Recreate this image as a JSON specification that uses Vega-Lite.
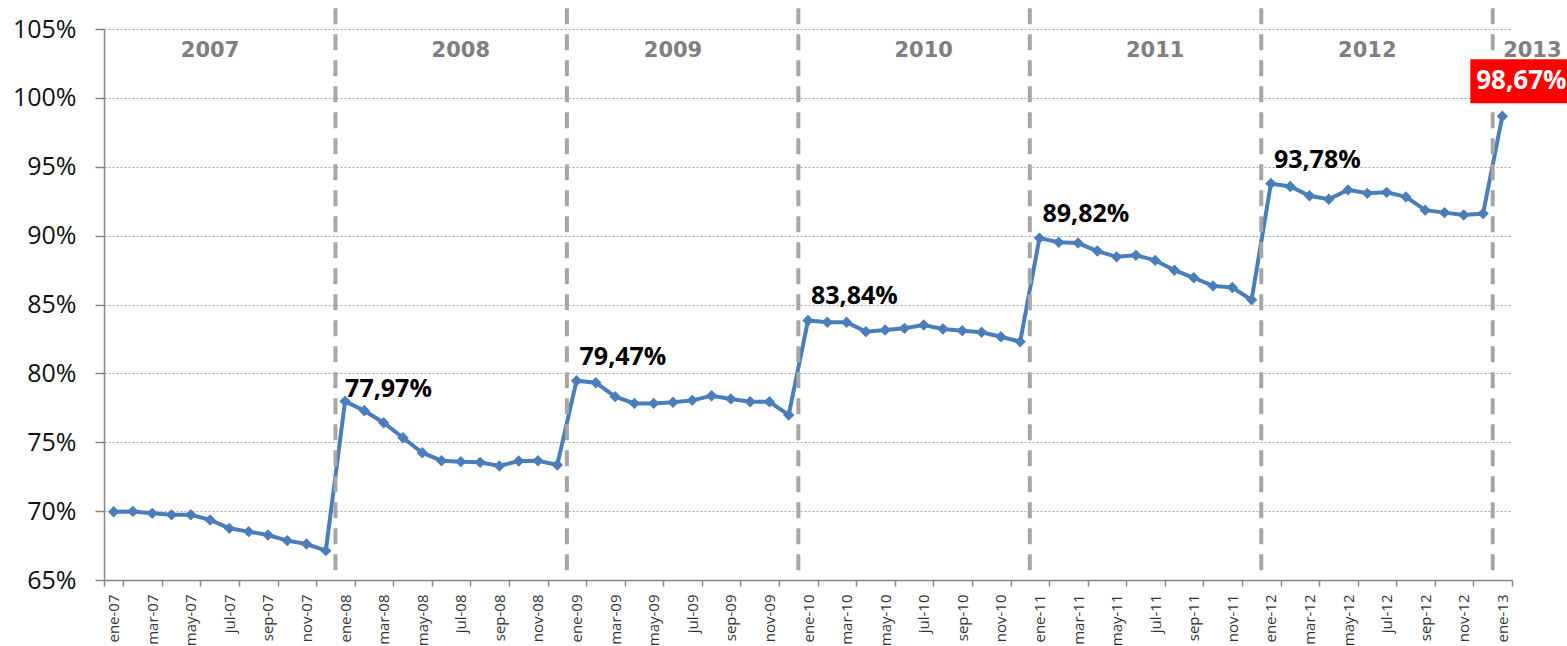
{
  "$schema": "https://vega.github.io/schema/vega-lite/v6.json",
  "width": 1408,
  "height": 551,
  "autosize": "none",
  "padding": {"left": 104, "top": 29, "right": 55, "bottom": 66},
  "background": "#ffffff",
  "config": {"view": {"stroke": null}},
  "data": {"values": [
    {"mes": "ene-07", "valor": 69.95, "anio": null, "etiqueta": null},
    {"mes": "feb-07", "valor": 69.98, "anio": null, "etiqueta": null},
    {"mes": "mar-07", "valor": 69.84, "anio": null, "etiqueta": null},
    {"mes": "abr-07", "valor": 69.73, "anio": null, "etiqueta": null},
    {"mes": "may-07", "valor": 69.74, "anio": null, "etiqueta": null},
    {"mes": "jun-07", "valor": 69.36, "anio": "2007", "etiqueta": null},
    {"mes": "jul-07", "valor": 68.75, "anio": null, "etiqueta": null},
    {"mes": "ago-07", "valor": 68.51, "anio": null, "etiqueta": null},
    {"mes": "sep-07", "valor": 68.27, "anio": null, "etiqueta": null},
    {"mes": "oct-07", "valor": 67.86, "anio": null, "etiqueta": null},
    {"mes": "nov-07", "valor": 67.61, "anio": null, "etiqueta": null},
    {"mes": "dic-07", "valor": 67.13, "anio": null, "etiqueta": null},
    {"mes": "ene-08", "valor": 77.97, "anio": null, "etiqueta": "77,97%"},
    {"mes": "feb-08", "valor": 77.29, "anio": null, "etiqueta": null},
    {"mes": "mar-08", "valor": 76.42, "anio": null, "etiqueta": null},
    {"mes": "abr-08", "valor": 75.33, "anio": null, "etiqueta": null},
    {"mes": "may-08", "valor": 74.24, "anio": null, "etiqueta": null},
    {"mes": "jun-08", "valor": 73.66, "anio": null, "etiqueta": null},
    {"mes": "jul-08", "valor": 73.59, "anio": "2008", "etiqueta": null},
    {"mes": "ago-08", "valor": 73.54, "anio": null, "etiqueta": null},
    {"mes": "sep-08", "valor": 73.28, "anio": null, "etiqueta": null},
    {"mes": "oct-08", "valor": 73.64, "anio": null, "etiqueta": null},
    {"mes": "nov-08", "valor": 73.66, "anio": null, "etiqueta": null},
    {"mes": "dic-08", "valor": 73.35, "anio": null, "etiqueta": null},
    {"mes": "ene-09", "valor": 79.47, "anio": null, "etiqueta": "79,47%"},
    {"mes": "feb-09", "valor": 79.32, "anio": null, "etiqueta": null},
    {"mes": "mar-09", "valor": 78.31, "anio": null, "etiqueta": null},
    {"mes": "abr-09", "valor": 77.82, "anio": null, "etiqueta": null},
    {"mes": "may-09", "valor": 77.82, "anio": null, "etiqueta": null},
    {"mes": "jun-09", "valor": 77.90, "anio": "2009", "etiqueta": null},
    {"mes": "jul-09", "valor": 78.04, "anio": null, "etiqueta": null},
    {"mes": "ago-09", "valor": 78.38, "anio": null, "etiqueta": null},
    {"mes": "sep-09", "valor": 78.14, "anio": null, "etiqueta": null},
    {"mes": "oct-09", "valor": 77.94, "anio": null, "etiqueta": null},
    {"mes": "nov-09", "valor": 77.94, "anio": null, "etiqueta": null},
    {"mes": "dic-09", "valor": 76.98, "anio": null, "etiqueta": null},
    {"mes": "ene-10", "valor": 83.84, "anio": null, "etiqueta": "83,84%"},
    {"mes": "feb-10", "valor": 83.71, "anio": null, "etiqueta": null},
    {"mes": "mar-10", "valor": 83.71, "anio": null, "etiqueta": null},
    {"mes": "abr-10", "valor": 83.03, "anio": null, "etiqueta": null},
    {"mes": "may-10", "valor": 83.15, "anio": null, "etiqueta": null},
    {"mes": "jun-10", "valor": 83.27, "anio": null, "etiqueta": null},
    {"mes": "jul-10", "valor": 83.51, "anio": "2010", "etiqueta": null},
    {"mes": "ago-10", "valor": 83.22, "anio": null, "etiqueta": null},
    {"mes": "sep-10", "valor": 83.10, "anio": null, "etiqueta": null},
    {"mes": "oct-10", "valor": 82.98, "anio": null, "etiqueta": null},
    {"mes": "nov-10", "valor": 82.66, "anio": null, "etiqueta": null},
    {"mes": "dic-10", "valor": 82.30, "anio": null, "etiqueta": null},
    {"mes": "ene-11", "valor": 89.82, "anio": null, "etiqueta": "89,82%"},
    {"mes": "feb-11", "valor": 89.52, "anio": null, "etiqueta": null},
    {"mes": "mar-11", "valor": 89.46, "anio": null, "etiqueta": null},
    {"mes": "abr-11", "valor": 88.88, "anio": null, "etiqueta": null},
    {"mes": "may-11", "valor": 88.46, "anio": null, "etiqueta": null},
    {"mes": "jun-11", "valor": 88.58, "anio": null, "etiqueta": null},
    {"mes": "jul-11", "valor": 88.20, "anio": "2011", "etiqueta": null},
    {"mes": "ago-11", "valor": 87.49, "anio": null, "etiqueta": null},
    {"mes": "sep-11", "valor": 86.94, "anio": null, "etiqueta": null},
    {"mes": "oct-11", "valor": 86.35, "anio": null, "etiqueta": null},
    {"mes": "nov-11", "valor": 86.23, "anio": null, "etiqueta": null},
    {"mes": "dic-11", "valor": 85.34, "anio": null, "etiqueta": null},
    {"mes": "ene-12", "valor": 93.78, "anio": null, "etiqueta": "93,78%"},
    {"mes": "feb-12", "valor": 93.57, "anio": null, "etiqueta": null},
    {"mes": "mar-12", "valor": 92.89, "anio": null, "etiqueta": null},
    {"mes": "abr-12", "valor": 92.64, "anio": null, "etiqueta": null},
    {"mes": "may-12", "valor": 93.32, "anio": null, "etiqueta": null},
    {"mes": "jun-12", "valor": 93.07, "anio": "2012", "etiqueta": null},
    {"mes": "jul-12", "valor": 93.14, "anio": null, "etiqueta": null},
    {"mes": "ago-12", "valor": 92.81, "anio": null, "etiqueta": null},
    {"mes": "sep-12", "valor": 91.85, "anio": null, "etiqueta": null},
    {"mes": "oct-12", "valor": 91.67, "anio": null, "etiqueta": null},
    {"mes": "nov-12", "valor": 91.50, "anio": null, "etiqueta": null},
    {"mes": "dic-12", "valor": 91.60, "anio": null, "etiqueta": null},
    {"mes": "ene-13", "valor": 98.67, "anio": "2013", "etiqueta": "98,67%"}
  ]},
  "layer": [
    {
      "mark": {"type": "line", "color": "#4A7EBB", "strokeWidth": 4,
        "point": {"shape": "diamond", "size": 130, "filled": true, "color": "#4A7EBB"}},
      "encoding": {
        "x": {"field": "mes", "type": "ordinal", "sort": null,
          "scale": {"paddingInner": 0, "paddingOuter": 0},
          "axis": {
            "title": null,
            "values": ["ene-07","mar-07","may-07","jul-07","sep-07","nov-07","ene-08","mar-08","may-08","jul-08","sep-08","nov-08","ene-09","mar-09","may-09","jul-09","sep-09","nov-09","ene-10","mar-10","may-10","jul-10","sep-10","nov-10","ene-11","mar-11","may-11","jul-11","sep-11","nov-11","ene-12","mar-12","may-12","jul-12","sep-12","nov-12","ene-13"],
            "tickBand": "extent",
            "labelAngle": -90,
            "labelAlign": "right",
            "labelBaseline": "middle",
            "labelFont": "Open Sans",
            "labelFontSize": 15,
            "labelColor": "#333333",
            "labelPadding": 8,
            "tickSize": 6,
            "tickColor": "#868686",
            "tickWidth": 1.5,
            "domainColor": "#868686",
            "domainWidth": 1.5,
            "grid": false
          }},
        "y": {"field": "valor", "type": "quantitative",
          "scale": {"domain": [65, 105], "nice": false, "zero": false},
          "axis": {
            "title": null,
            "values": [65, 70, 75, 80, 85, 90, 95, 100, 105],
            "labelExpr": "datum.value + '%'",
            "labelFont": "Open Sans",
            "labelFontSize": 25,
            "labelColor": "#111111",
            "labelPadding": 19,
            "tickSize": 9,
            "tickColor": "#868686",
            "tickWidth": 1.5,
            "domainColor": "#868686",
            "domainWidth": 1.5,
            "grid": true,
            "gridColor": "#A6A6A6",
            "gridDash": [2, 2],
            "gridWidth": 1
          }}
      }
    },
    {
      "transform": [{"filter": "indexof(datum.mes, 'ene') === 0 && datum.mes !== 'ene-07'"}],
      "mark": {"type": "rule", "color": "#A6A6A6", "strokeWidth": 4, "strokeDash": [16, 10]},
      "encoding": {
        "x": {"field": "mes", "type": "ordinal", "sort": null, "bandPosition": 0},
        "y": {"datum": 106.5},
        "y2": {"datum": 65.35}
      }
    },
    {
      "transform": [{"filter": "datum.anio !== null && datum.anio !== '2013'"}],
      "mark": {"type": "text", "font": "DejaVu Sans", "fontWeight": "bold", "fontSize": 21, "color": "#7F7F7F", "align": "center", "baseline": "middle"},
      "encoding": {
        "x": {"field": "mes", "type": "ordinal", "sort": null},
        "y": {"datum": 103.4},
        "text": {"field": "anio"}
      }
    },
    {
      "transform": [{"filter": "datum.anio === '2013'"}],
      "mark": {"type": "text", "font": "DejaVu Sans", "fontWeight": "bold", "fontSize": 21, "color": "#7F7F7F", "align": "center", "baseline": "middle", "dx": 30},
      "encoding": {
        "x": {"field": "mes", "type": "ordinal", "sort": null},
        "y": {"datum": 103.4},
        "text": {"field": "anio"}
      }
    },
    {
      "transform": [{"filter": "datum.etiqueta !== null && datum.mes !== 'ene-08' && datum.mes !== 'ene-13'"}],
      "mark": {"type": "text", "font": "Open Sans", "fontWeight": "bold", "fontSize": 25, "color": "#000000", "align": "left", "baseline": "alphabetic", "dx": 3, "dy": -16},
      "encoding": {
        "x": {"field": "mes", "type": "ordinal", "sort": null},
        "y": {"field": "valor", "type": "quantitative"},
        "text": {"field": "etiqueta"}
      }
    },
    {
      "transform": [{"filter": "datum.mes === 'ene-08'"}],
      "mark": {"type": "text", "font": "Open Sans", "fontWeight": "bold", "fontSize": 25, "color": "#000000", "align": "left", "baseline": "alphabetic", "dx": 0, "dy": -4},
      "encoding": {
        "x": {"field": "mes", "type": "ordinal", "sort": null},
        "y": {"field": "valor", "type": "quantitative"},
        "text": {"field": "etiqueta"}
      }
    },
    {
      "transform": [{"filter": "datum.mes === 'ene-13'"}],
      "mark": {"type": "point", "shape": "M-51,-22H51V22H-51Z", "size": 4, "filled": true, "color": "#FF0000", "opacity": 1, "xOffset": 19, "yOffset": -35},
      "encoding": {
        "x": {"field": "mes", "type": "ordinal", "sort": null},
        "y": {"field": "valor", "type": "quantitative"}
      }
    },
    {
      "transform": [{"filter": "datum.mes === 'ene-13'"}],
      "mark": {"type": "text", "font": "Open Sans", "fontWeight": "bold", "fontSize": 26, "color": "#FFFFFF", "align": "center", "baseline": "middle", "xOffset": 19, "yOffset": -35},
      "encoding": {
        "x": {"field": "mes", "type": "ordinal", "sort": null},
        "y": {"field": "valor", "type": "quantitative"},
        "text": {"field": "etiqueta"}
      }
    }
  ]
}
